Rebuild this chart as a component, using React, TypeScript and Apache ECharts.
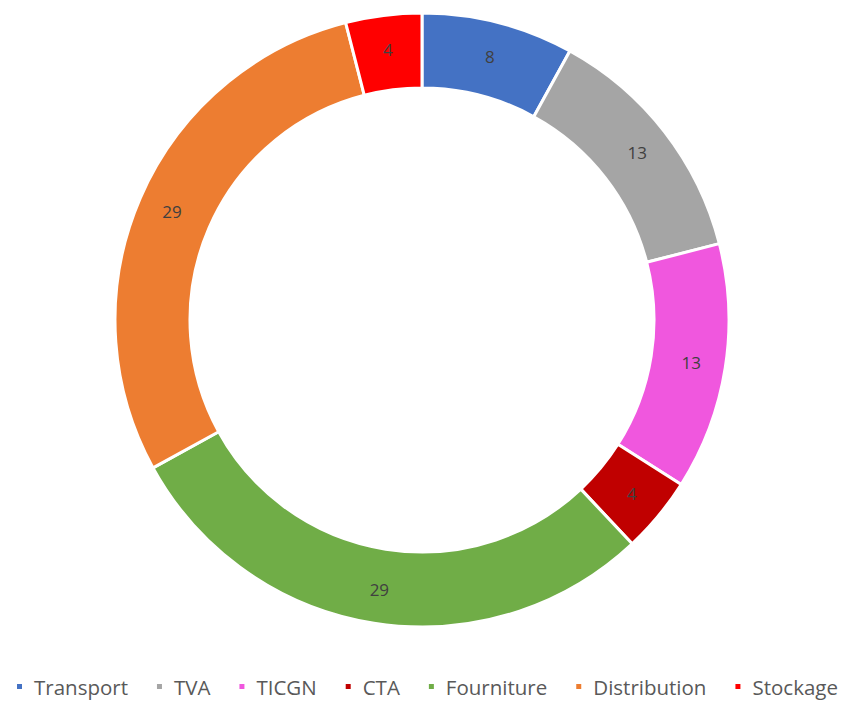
import React, { useEffect, useRef } from "react";
import * as echarts from "echarts";

const categories = ["Transport", "TVA", "TICGN", "CTA", "Fourniture", "Distribution", "Stockage"];
const values = [8, 13, 13, 4, 29, 29, 4];
const colors = ["#4472C4", "#A5A5A5", "#F057DE", "#C00000", "#70AD47", "#ED7D31", "#FF0000"];

export default function App() {
  const ref = useRef<HTMLDivElement>(null);
  useEffect(() => {
    document.body.style.margin = "0";
    const chart = echarts.init(ref.current!, null, { renderer: "svg" });
    chart.setOption({
      animation: false,
      backgroundColor: "#ffffff",
      legend: {
        top: 676,
        left: 15,
        width: 900,
        padding: 0,
        icon: "rect",
        itemWidth: 7,
        itemHeight: 7,
        itemGap: 27,
        data: categories,
        textStyle: {
          fontFamily: "Open Sans",
          fontSize: 20.5,
          color: "#595959",
          padding: [0, 0, 0, 6],
        },
      },
      series: [
        {
          type: "pie",
          center: [422, 320],
          radius: [232, 307],
          startAngle: 90,
          clockwise: true,
          avoidLabelOverlap: false,
          itemStyle: { borderColor: "#ffffff", borderWidth: 3 },
          label: {
            show: true,
            position: "inside",
            formatter: "{c}",
            fontFamily: "Open Sans",
            fontSize: 17,
            color: "#404040",
          },
          labelLine: { show: false },
          data: categories.map((name, i) => ({
            name,
            value: values[i],
            itemStyle: { color: colors[i] },
          })),
        },
      ],
    });
    return () => chart.dispose();
  }, []);
  return <div ref={ref} style={{ width: 847, height: 702 }} />;
}
